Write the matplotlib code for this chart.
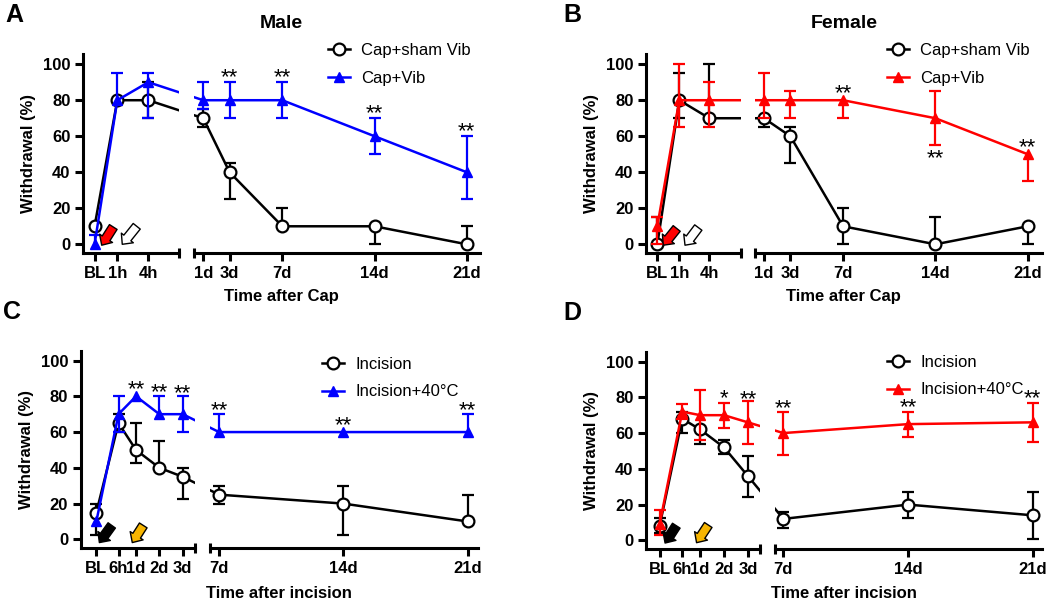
import numpy as np
import matplotlib.pyplot as plt
from matplotlib.lines import Line2D

plt.rcParams['font.family'] = ['Liberation Sans', 'DejaVu Sans']

W, H = 1050, 603

# ---- data ----
# A / B: x in hours (left part) and days (right part); BL drawn at -1.2 h
ab_left_lab = ['BL', '1h', '4h']
ab_left_x = [-1.2, 1, 4]
ab_right_lab = ['1d', '3d', '7d', '14d', '21d']
ab_right_x = [1, 3, 7, 14, 21]

a_sham = [10, 80, 80, 70, 40, 10, 10, 0]
a_sham_lo = [10, 80, 70, 65, 25, 10, 0, 0]
a_sham_hi = [10, 80, 90, 75, 45, 20, 10, 10]
a_vib = [0, 80, 90, 80, 80, 80, 60, 40]
a_vib_lo = [0, 80, 70, 75, 70, 70, 50, 25]
a_vib_hi = [5, 95, 95, 90, 90, 90, 70, 60]
a_stars = {'3d': 95, '7d': 95, '14d': 75, '21d': 65}

b_sham = [0, 80, 70, 70, 60, 10, 0, 10]
b_sham_lo = [0, 70, 70, 65, 45, 0, 0, 0]
b_sham_hi = [15, 95, 100, 70, 65, 20, 15, 10]
b_vib = [10, 80, 80, 80, 80, 80, 70, 50]
b_vib_lo = [0, 65, 65, 70, 70, 70, 55, 35]
b_vib_hi = [15, 100, 90, 95, 85, 80, 85, 50]
b_stars = {'7d': 86, '14d': 50, '21d': 56}

# C / D: x in days; BL drawn at -0.7 d
cd_left_lab = ['BL', '6h', '1d', '2d', '3d']
cd_left_x = [-0.7, 0.25, 1, 2, 3]
cd_right_lab = ['7d', '14d', '21d']
cd_right_x = [7, 14, 21]

c_inc = [15, 65, 50, 40, 35, 25, 20, 10]
c_inc_lo = [2.5, 60, 42.5, 40, 22.5, 20, 2.5, 10]
c_inc_hi = [20, 70, 65, 55, 40, 30, 30, 25]
c_heat = [10, 70, 80, 70, 70, 60, 60, 60]
c_heat_lo = [10, 60, 80, 70, 60, 60, 60, 60]
c_heat_hi = [10, 80, 80, 80, 80, 70, 60, 70]
c_stars = {'1d': 86, '2d': 84.5, '3d': 84, '7d': 74, '14d': 66, '21d': 74}

d_inc = [8, 68, 62, 52, 36, 12, 20, 14]
d_inc_lo = [4, 60, 54, 48.5, 24.5, 7, 12.5, 1]
d_inc_hi = [12.5, 72, 62, 56, 47, 16, 27, 27]
d_heat = [9, 72, 70, 70, 66, 60, 65, 66]
d_heat_lo = [3, 68, 56, 63, 54, 48, 58, 55]
d_heat_hi = [17, 76, 84, 77, 78, 72, 72, 77]
d_stars = {'2d': ('*', 81.8), '3d': 80.7, '7d': 76.2, '14d': 76.6, '21d': 81.3}

BLUE = '#0000ff'
RED = '#ff0000'
ORANGE = '#f7b500'


def px_box(x0, x1, y0, y1):
    return [x0 / W, 1 - y1 / H, (x1 - x0) / W, (y1 - y0) / H]


def to_other(ax_from, ax_to, xs):
    pts = ax_from.transData.transform(np.column_stack([xs, np.zeros(len(xs))]))
    return ax_to.transData.inverted().transform(pts)[:, 0]


def err_bars(ax, x, y, lo, hi, color):
    x, y, lo, hi = map(np.asarray, (x, y, lo, hi))
    ax.vlines(x, lo, hi, color=color, lw=1.6, zorder=3)
    up = hi > y
    dn = lo < y
    caps_x = np.concatenate([x[up], x[dn]])
    caps_y = np.concatenate([hi[up], lo[dn]])
    ax.plot(caps_x, caps_y, ls='none', marker='_', ms=8, mew=1.6, color=color, zorder=3)


def draw_panel(fig, lbox, rbox, ybox, llim, rlim, lx, llab, rx, rlab,
               ctrl, ctrl_lo, ctrl_hi, trt, trt_lo, trt_hi, color,
               names, stars, arrows, letter, title, xlabel, leg_xy, xlab_y):
    axl = fig.add_axes(px_box(lbox[0], lbox[1], *ybox))
    axr = fig.add_axes(px_box(rbox[0], rbox[1], *ybox))
    axl.set_xlim(llim)
    axr.set_xlim(rlim)
    for ax in (axl, axr):
        ax.set_ylim(-5, 105.5)
        ax.spines['top'].set_visible(False)
        ax.spines['right'].set_visible(False)
        ax.spines['bottom'].set_linewidth(2.2)
        ax.spines['left'].set_linewidth(2.2)
        ax.tick_params(direction='out', length=6, width=2.2, labelsize=12, pad=3)
    axr.spines['left'].set_visible(False)
    axr.set_yticks([])
    axl.set_yticks([0, 20, 40, 60, 80, 100])
    axl.set_xticks(lx, llab)
    axr.set_xticks(rx, rlab)
    for ax in (axl, axr):
        for t in ax.get_xticklabels() + ax.get_yticklabels():
            t.set_fontweight('bold')
    axl.set_ylabel('Withdrawal (%)', fontsize=12, fontweight='bold', labelpad=5)

    # break caps on the x axis
    axl.plot([1, 1], [-0.025, 0.025], transform=axl.transAxes, color='black',
             lw=2.2, clip_on=False, solid_capstyle='butt')
    axr.plot([0, 0], [-0.025, 0.025], transform=axr.transAxes, color='black',
             lw=2.2, clip_on=False, solid_capstyle='butt')

    n = len(lx)
    xl_all = np.concatenate([lx, to_other(axr, axl, rx)])
    xr_all = np.concatenate([to_other(axl, axr, lx), rx])

    series = [
        (ctrl, ctrl_lo, ctrl_hi, 'black', dict(marker='o', mfc='white', mec='black', mew=1.6, ms=8.5), 2),
        (trt, trt_lo, trt_hi, color, dict(marker='^', mfc=color, mec=color, ms=7.5), 4),
    ]
    for y, lo, hi, c, mk, z in series:
        y = np.asarray(y, float)
        lo = np.asarray(lo, float)
        hi = np.asarray(hi, float)
        for ax, xs, sl in ((axl, xl_all, slice(0, n)), (axr, xr_all, slice(n, None))):
            ax.plot(xs, y, color=c, lw=1.8, zorder=z)
            err_bars(ax, xs[sl], y[sl], lo[sl], hi[sl], c)
            ax.plot(xs[sl], y[sl], ls='none', color=c, zorder=z + 1, clip_on=False, **mk)

    # significance marks
    labels = list(llab) + list(rlab)
    for key, val in stars.items():
        txt, yv = val if isinstance(val, tuple) else ('**', val)
        i = labels.index(key)
        ax, xv = (axl, xl_all[i]) if i < n else (axr, xr_all[i])
        ax.text(xv, yv - 2.3, txt, ha='center', va='center', fontsize=16, zorder=6)

    # treatment arrows
    for fc, tail, tip in arrows:
        axl.annotate('', xy=tip, xytext=tail,
                     arrowprops=dict(arrowstyle='simple,head_length=0.45,head_width=0.85,tail_width=0.5',
                                     fc=fc, ec='black', lw=1, mutation_scale=13,
                                     shrinkA=0, shrinkB=0), zorder=6)

    handles = [Line2D([], [], color=s[3], lw=1.8, **s[4]) for s in series]
    fig.legend(handles, names, loc='upper left', bbox_to_anchor=(leg_xy[0] / W, 1 - leg_xy[1] / H),
               frameon=False, fontsize=12, handlelength=1.3, handletextpad=0.7,
               labelspacing=0.75, borderpad=0, borderaxespad=0)

    xc = (lbox[0] + rbox[1]) / 2
    fig.text(xc / W, 1 - xlab_y / H, xlabel, ha='center', va='center', fontsize=12, fontweight='bold')
    if title:
        fig.text(xc / W, 1 - 24 / H, title, ha='center', va='center', fontsize=14, fontweight='bold')
    lx0 = lbox[0] - 69 if letter in 'AC' else lbox[0] - 74
    fig.text(lx0 / W, 1 - (ybox[0] - 39) / H, letter, ha='center', va='center', fontsize=18, fontweight='bold')


fig = plt.figure(figsize=(W / 100, H / 100), dpi=100)

draw_panel(fig, (83, 179.3), (193.5, 480), (54.3, 253.3), (-2.32, 7.0), (0.26, 22.0),
           ab_left_x, ab_left_lab, ab_right_x, ab_right_lab,
           a_sham, a_sham_lo, a_sham_hi, a_vib, a_vib_lo, a_vib_hi, BLUE,
           ['Cap+sham Vib', 'Cap+Vib'], a_stars,
           [(RED, (0.61, 9.6), (-0.51, -0.5)), ('white', (2.88, 10), (1.48, 0))],
           'A', 'Male', 'Time after Cap', (328, 43), 297)

draw_panel(fig, (646, 740.7), (755, 1041.7), (54.3, 253.3), (-2.33, 7.14), (0.32, 22.06),
           ab_left_x, ab_left_lab, ab_right_x, ab_right_lab,
           b_sham, b_sham_lo, b_sham_hi, b_vib, b_vib_lo, b_vib_hi, RED,
           ['Cap+sham Vib', 'Cap+Vib'], b_stars,
           [(RED, (0.74, 8.8), (-0.6, -0.5)), ('white', (2.9, 9.3), (1.57, -0.5))],
           'B', 'Female', 'Time after Cap', (887, 43), 297)

draw_panel(fig, (80.7, 195.3), (210, 477.7), (350.7, 548.3), (-1.37, 3.54), (6.49, 21.56),
           cd_left_x, cd_left_lab, cd_right_x, cd_right_lab,
           c_inc, c_inc_lo, c_inc_hi, c_heat, c_heat_lo, c_heat_hi, BLUE,
           ['Incision', 'Incision+40°C'], c_stars,
           [('black', (-0.04, 7.8), (-0.57, -1.8)), (ORANGE, (1.31, 7.8), (0.84, -1.8))],
           'C', None, 'Time after incision', (322, 357), 593)

draw_panel(fig, (646, 760), (775, 1041.7), (351.7, 549.3), (-1.27, 3.51), (6.53, 21.5),
           cd_left_x, cd_left_lab, cd_right_x, cd_right_lab,
           d_inc, d_inc_lo, d_inc_hi, d_heat, d_heat_lo, d_heat_hi, RED,
           ['Incision', 'Incision+40°C'], d_stars,
           [('black', (0.0, 8.2), (-0.47, -1.5)), (ORANGE, (1.34, 8.6), (0.85, -1.3))],
           'D', None, 'Time after incision', (887, 355), 593)

fig.savefig('out.png', dpi=100, facecolor='white')
